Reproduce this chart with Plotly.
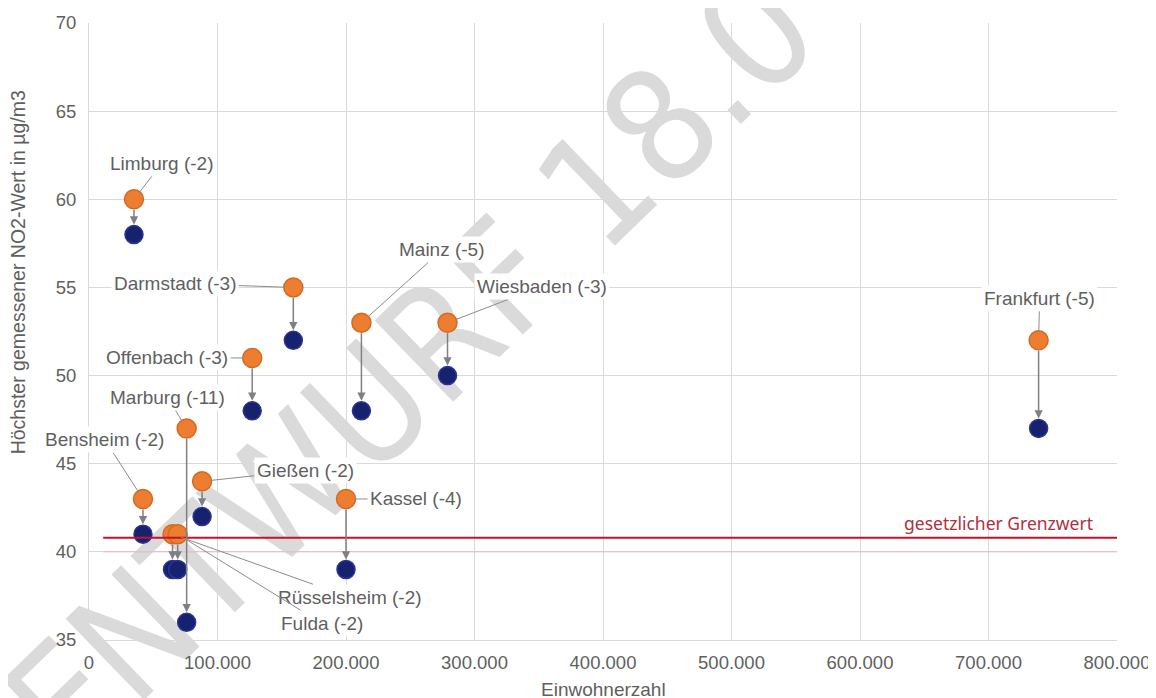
import plotly.graph_objects as go

cities = ["Limburg", "Bensheim", "Rüsselsheim", "Fulda", "Marburg", "Gießen",
          "Offenbach", "Darmstadt", "Kassel", "Mainz", "Wiesbaden", "Frankfurt"]
population = [35000, 42000, 65000, 69000, 76000, 88000,
              127000, 159000, 200000, 212000, 279000, 739000]
no2_before = [60, 43, 41, 41, 47, 44, 51, 55, 43, 53, 53, 52]
no2_after = [58, 41, 39, 39, 36, 42, 48, 52, 39, 48, 50, 47]
# label offsets in pixels (style only)
label_dx = [28, -38, 177, 144, -19, 103, -85, -118, 70, 81, 94, 1]
label_dy = [-36, -59, 63, 89, -31, -11, 0, -4, 0, -73, -36, -42]

limit_value = 40.8
limit_label = "gesetzlicher Grenzwert"
x_ticks = [0, 100000, 200000, 300000, 400000, 500000, 600000, 700000, 800000]
y_ticks = [35, 40, 45, 50, 55, 60, 65, 70]
x_title = "Einwohnerzahl"
y_title = "Höchster gemessener NO2-Wert in µg/m3"
watermark = "ENTWURF 18.0"

GRAY = "#5f5f5f"
FONT = "Liberation Sans, Arial, sans-serif"

fig = go.Figure()

fig.add_trace(go.Scatter(
    x=population, y=no2_before, mode="markers",
    marker=dict(size=19, color="#ED7D31", line=dict(color="#D46A22", width=1.5)),
    name="vorher", showlegend=False, hoverinfo="skip"))
fig.add_trace(go.Scatter(
    x=population, y=no2_after, mode="markers",
    marker=dict(size=18, color="#17226F", line=dict(color="#2A3590", width=1.5)),
    name="nachher", showlegend=False, hoverinfo="skip"))

annotations = []
for xp, yb, ya in zip(population, no2_before, no2_after):
    annotations.append(dict(
        x=xp, y=ya, ax=xp, ay=yb, xref="x", yref="y", axref="x", ayref="y",
        text="", showarrow=True, arrowhead=2, arrowsize=1.1, arrowwidth=1.5,
        arrowcolor="#808080", standoff=10, startstandoff=9))

for name, xp, yb, ya, dx, dy in zip(cities, population, no2_before, no2_after, label_dx, label_dy):
    annotations.append(dict(
        x=xp, y=yb, xref="x", yref="y", ax=dx, ay=dy,
        text=f"{name} ({ya - yb})", showarrow=True, arrowhead=0, arrowwidth=1,
        arrowcolor="#8c8c8c", standoff=9, bgcolor="white", borderpad=2,
        font=dict(family=FONT, size=19, color=GRAY)))

annotations.append(dict(
    x=0.979, y=limit_value, xref="paper", yref="y", xanchor="right", yanchor="bottom",
    text=limit_label, showarrow=False, yshift=1,
    font=dict(family="Noto Sans, Open Sans, sans-serif", size=17.5, color="#B0303D")))

annotations.append(dict(
    x=-0.069, y=0.596, xref="paper", yref="paper", xanchor="center", yanchor="middle",
    text=y_title, textangle=-90, showarrow=False,
    font=dict(family=FONT, size=19.5, color=GRAY)))
annotations.append(dict(
    x=0.5, y=-0.081, xref="paper", yref="paper", xanchor="center", yanchor="middle",
    text=x_title, showarrow=False,
    font=dict(family=FONT, size=19, color=GRAY)))

shapes = [
    dict(type="rect", xref="paper", yref="paper", x0=0.206, x1=0.406, y0=0.354, y1=0.554,
         layer="below", line=dict(width=0), fillcolor="rgba(0,0,0,0)",
         label=dict(text=watermark, textangle=-44, textposition="middle center",
                    font=dict(family="Liberation Sans Narrow, DejaVu Sans Condensed, sans-serif",
                              size=155, color="#DADADA"))),
    dict(type="line", xref="x", yref="y", x0=11000, x1=800000, y0=40, y1=40,
         line=dict(color="rgba(235,170,185,0.7)", width=1)),
    dict(type="line", xref="x", yref="y", x0=11000, x1=800000, y0=limit_value, y1=limit_value,
         line=dict(color="#C8102E", width=2.2)),
]

fig.update_layout(
    width=1156, height=698,
    margin=dict(l=81, r=47, t=15, b=66),
    paper_bgcolor="white", plot_bgcolor="rgba(0,0,0,0)",
    separators=",.",
    annotations=annotations, shapes=shapes,
    font=dict(family=FONT, size=18.5, color=GRAY),
)
fig.update_xaxes(
    range=[0, 800000], tickvals=x_ticks, tickformat=",d",
    showgrid=True, gridcolor="#D9D9D9", gridwidth=1, zeroline=False,
    showline=True, linecolor="#D9D9D9", ticks="", ticklabelstandoff=6,
    tickfont=dict(family=FONT, size=18.5, color=GRAY),
    automargin=False)
fig.update_yaxes(
    range=[35, 70], tickvals=y_ticks,
    showgrid=True, gridcolor="#D9D9D9", gridwidth=1, zeroline=False,
    showline=True, linecolor="#D9D9D9", ticks="", ticklabelstandoff=8,
    tickfont=dict(family=FONT, size=18.5, color=GRAY),
    automargin=False)

fig.write_html("out.html")
